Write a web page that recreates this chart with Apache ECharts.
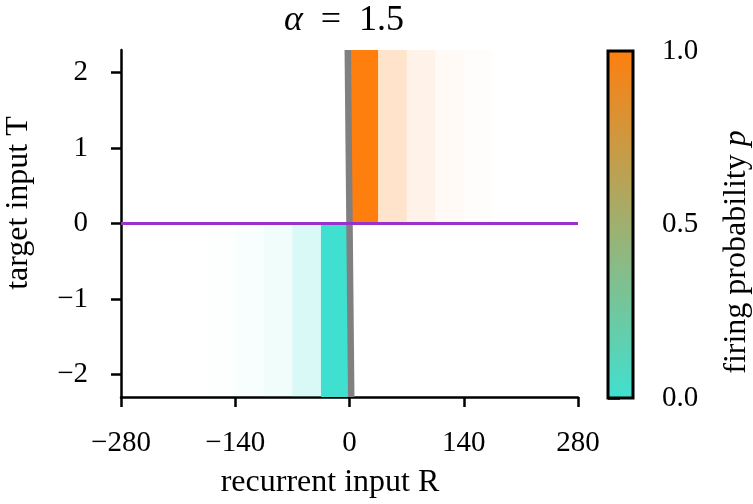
<!DOCTYPE html>
<html>
<head>
<meta charset="utf-8">
<script src="https://cdn.jsdelivr.net/npm/echarts@6/dist/echarts.min.js"></script>
<style>html,body{margin:0;padding:0;background:#fff}#c{width:753px;height:504px}</style>
</head>
<body>
<div id="c"></div>
<script>
// ---- data ----
const xTicks = [-280, -140, 0, 140, 280];
const yTicks = [-2, -1, 0, 1, 2];
const cbTicks = [0, 0.5, 1.0];
const rEdges = [-175, -140, -105, -70, -35, 0, 35, 70, 105, 140, 175];
const lowerAlpha = [0.012, 0.035, 0.08, 0.2, 1, 0, 0, 0, 0, 0];   // T < 0 (p = 0)
const upperAlpha = [0, 0, 0, 0, 0, 1, 0.22, 0.09, 0.04, 0.015];   // T > 0 (p = 1)
const tRange = [-2.3, 2.3];
const grayR = [-2.1, 2.1];
const grayT = [2.3, -2.3];
const purpleR = [-280, 280];
const purpleT = [0, 0];

const FONT = '"Liberation Serif", "DejaVu Serif", serif';
const FS = 29;      // tick labels
const FL = 32;      // axis titles
const C0 = '#40E0D0', C1 = '#ff7f0e';

const cells = [];
for (let i = 0; i < rEdges.length - 1; i++) {
  if (lowerAlpha[i] > 0) cells.push([rEdges[i], rEdges[i + 1], tRange[0], 0, lowerAlpha[i], 0]);
  if (upperAlpha[i] > 0) cells.push([rEdges[i], rEdges[i + 1], 0, tRange[1], upperAlpha[i], 1]);
}
const fmtMinus = v => (v < 0 ? '\u2212' + Math.abs(v) : String(v));

const chart = echarts.init(document.getElementById('c'), null, {renderer: 'canvas'});
chart.setOption({
  animation: false,
  backgroundColor: '#fff',
  grid: [
    {left: 121, right: 175, top: 50, bottom: 107, containLabel: false},
    {left: 608, width: 25, top: 51, height: 347, containLabel: false}
  ],
  xAxis: [
    {type: 'value', gridIndex: 0, min: -280, max: 280, interval: 140,
     axisLine: {show: true, onZero: false, lineStyle: {color: '#000', width: 2.5}},
     axisTick: {show: true, length: 10, lineStyle: {color: '#000', width: 2.5}},
     axisLabel: {color: '#000', fontFamily: FONT, fontSize: FS, margin: 32, formatter: fmtMinus},
     splitLine: {show: false}},
    {type: 'value', gridIndex: 1, min: 0, max: 1, show: false}
  ],
  yAxis: [
    {type: 'value', gridIndex: 0, min: tRange[0], max: tRange[1],
     axisLine: {show: true, onZero: false, lineStyle: {color: '#000', width: 2.5}},
     axisTick: {show: true, length: 10, customValues: yTicks, lineStyle: {color: '#000', width: 2.5}},
     axisLabel: {color: '#000', fontFamily: FONT, fontSize: FS, margin: 33, customValues: yTicks, formatter: fmtMinus},
     splitLine: {show: false}},
    {type: 'value', gridIndex: 1, position: 'right', min: 0, max: 1, interval: 0.5,
     axisLine: {show: false},
     axisTick: {show: true, length: 12, lineStyle: {color: '#000', width: 2.5}},
     axisLabel: {color: '#000', fontFamily: FONT, fontSize: FS, margin: 29, formatter: v => v.toFixed(1)},
     splitLine: {show: false}}
  ],
  series: [
    {type: 'custom', xAxisIndex: 0, yAxisIndex: 0, z: 1, clip: true,
     data: cells,
     renderItem: (params, api) => {
       const p0 = api.coord([api.value(0), api.value(3)]);
       const p1 = api.coord([api.value(1), api.value(2)]);
       return {type: 'rect',
         shape: {x: p0[0], y: p0[1], width: p1[0] - p0[0], height: p1[1] - p0[1]},
         style: {fill: api.value(5) ? C1 : C0, opacity: api.value(4)}};
     }},
    {type: 'line', xAxisIndex: 0, yAxisIndex: 0, z: 3, symbol: 'none',
     data: grayR.map((r, i) => [r, grayT[i]]),
     lineStyle: {color: '#808080', width: 6.5}},
    {type: 'line', xAxisIndex: 0, yAxisIndex: 0, z: 4, symbol: 'none',
     data: purpleR.map((r, i) => [r, purpleT[i]]),
     lineStyle: {color: '#9932CC', width: 3}},
    {type: 'custom', xAxisIndex: 1, yAxisIndex: 1, z: 5,
     data: [[0, 1, 0, 1]],
     renderItem: (params, api) => {
       const a = api.coord([api.value(0), api.value(3)]);
       const b = api.coord([api.value(1), api.value(2)]);
       return {type: 'rect',
         shape: {x: a[0], y: a[1], width: b[0] - a[0], height: b[1] - a[1]},
         style: {fill: new echarts.graphic.LinearGradient(0, 0, 0, 1, [
             {offset: 0, color: C1}, {offset: 1, color: C0}]),
           stroke: '#000', lineWidth: 3}};
     }}
  ],
  graphic: [
    {type: 'text', x: 344, y: 21, z: 10,
     style: {text: '{i|\u03b1}  =  1.5', textAlign: 'center', textVerticalAlign: 'middle', fill: '#000',
       font: '36px ' + FONT,
       rich: {i: {fontStyle: 'italic', fontFamily: FONT, fontSize: 36}}}},
    {type: 'text', x: 330, y: 483, z: 10,
     style: {text: 'recurrent input R', textAlign: 'center', textVerticalAlign: 'middle', fill: '#000',
       font: FL + 'px ' + FONT}},
    {type: 'text', x: 19, y: 203, rotation: Math.PI / 2, z: 10,
     style: {text: 'target input T', textAlign: 'center', textVerticalAlign: 'middle', fill: '#000',
       font: FL + 'px ' + FONT}},
    {type: 'text', x: 737, y: 252, rotation: Math.PI / 2, z: 10,
     style: {text: 'firing probability {i|p}', textAlign: 'center', textVerticalAlign: 'middle', fill: '#000',
       font: FL + 'px ' + FONT,
       rich: {i: {fontStyle: 'italic', fontFamily: FONT, fontSize: FL}}}}
  ]
});
</script>
</body>
</html>
